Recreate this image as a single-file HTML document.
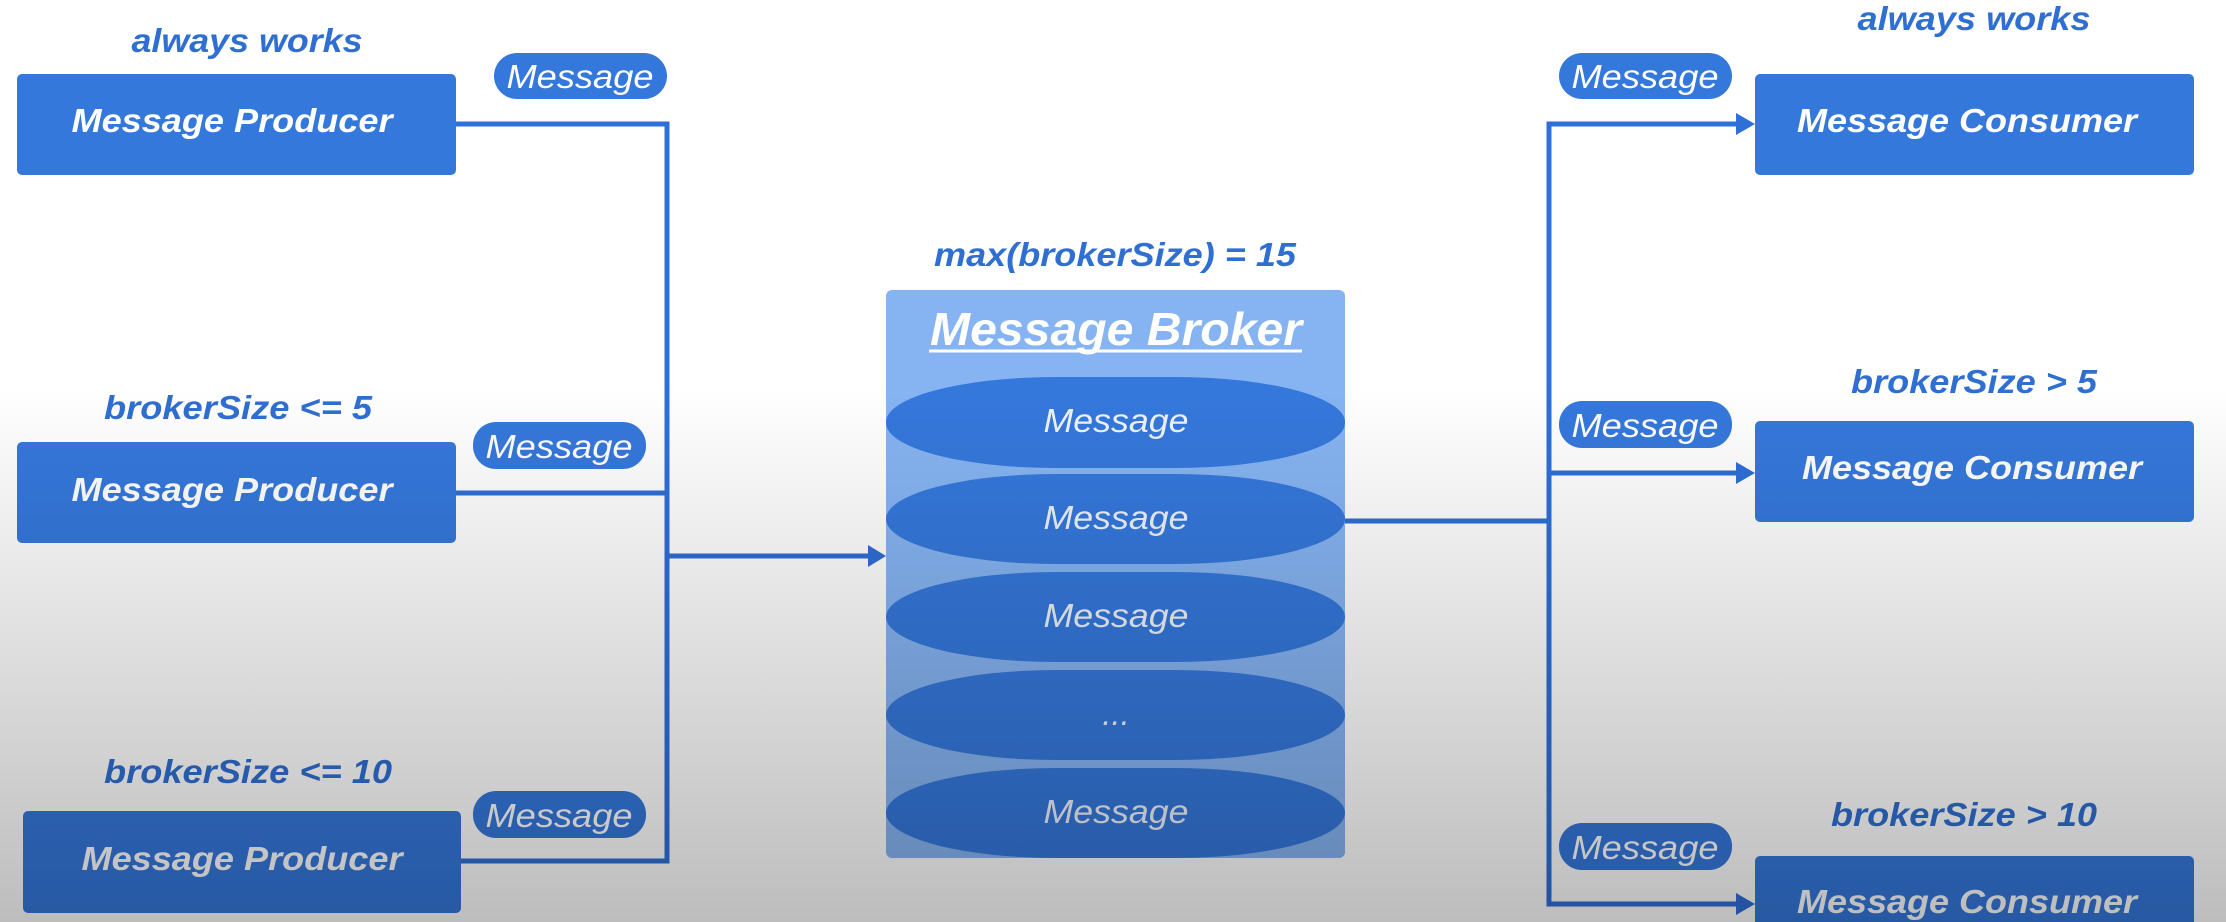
<!DOCTYPE html>
<html><head><meta charset="utf-8"><style>
html,body{margin:0;padding:0;width:2226px;height:922px;overflow:hidden;background:#fff}
svg{display:block}
text{font-family:"Liberation Sans",Arial,sans-serif;font-style:italic}
.lbl{fill:#2f6fd2;font-weight:bold;font-size:33px}
.bx{fill:#fff;font-weight:bold;font-size:33px}
.pl{fill:#fff;font-size:33px}
.em{fill:#eef3fb;font-size:33px}
</style></head><body>
<svg width="2226" height="922" viewBox="0 0 2226 922" xmlns="http://www.w3.org/2000/svg">
<defs>
<linearGradient id="shade" x1="0" y1="0" x2="0" y2="1">
<stop offset="0" stop-color="#000" stop-opacity="0"/>
<stop offset="0.42" stop-color="#000" stop-opacity="0"/>
<stop offset="1" stop-color="#000" stop-opacity="0.26"/>
</linearGradient>
</defs>
<rect width="2226" height="922" fill="#fff"/>
<g stroke="#2f6fd8" stroke-width="5" fill="none">
<polyline points="456,124 667,124 667,861 461,861"/>
<line x1="456" y1="493" x2="667" y2="493"/>
<line x1="667" y1="556" x2="872" y2="556"/>
<polyline points="1344,521 1549,521"/>
<polyline points="1742,124 1549,124 1549,904 1742,904"/>
<line x1="1549" y1="473" x2="1742" y2="473"/>
</g>
<g fill="#2f6fd8">
<path d="M868,545 L886,556 L868,567 z"/>
<path d="M1736,113 L1755,124 L1736,135 z"/>
<path d="M1736,462 L1755,473 L1736,484 z"/>
<path d="M1736,893 L1755,904 L1736,915 z"/>
</g>
<g fill="#3578dc">
<rect x="17" y="74" width="439" height="101" rx="5"/>
<rect x="17" y="442" width="439" height="101" rx="5"/>
<rect x="23" y="811" width="438" height="102" rx="5"/>
<rect x="1755" y="74" width="439" height="101" rx="5"/>
<rect x="1755" y="421" width="439" height="101" rx="5"/>
<rect x="1755" y="856" width="439" height="100" rx="5"/>
<rect x="494" y="53" width="173" height="46" rx="23"/>
<rect x="473" y="422" width="173" height="47" rx="23"/>
<rect x="473" y="791" width="173" height="47" rx="23"/>
<rect x="1559" y="53" width="173" height="46" rx="23"/>
<rect x="1559" y="401" width="173" height="47" rx="23"/>
<rect x="1559" y="823" width="173" height="47" rx="23"/>
</g>
<rect x="886" y="290" width="459" height="568" rx="6" fill="#86b4f2"/>
<g fill="#3578dc">
<rect x="886" y="377" width="459" height="91" rx="170" ry="45"/>
<rect x="886" y="474" width="459" height="90" rx="170" ry="45"/>
<rect x="886" y="572" width="459" height="90" rx="170" ry="45"/>
<rect x="886" y="670" width="459" height="90" rx="170" ry="45"/>
<rect x="886" y="768" width="459" height="90" rx="170" ry="45"/>
</g>
<g text-anchor="middle">
<text class="lbl" x="247" y="52" textLength="231" lengthAdjust="spacingAndGlyphs">always works</text>
<text class="lbl" x="238" y="419" textLength="268" lengthAdjust="spacingAndGlyphs">brokerSize &lt;= 5</text>
<text class="lbl" x="248" y="783" textLength="288" lengthAdjust="spacingAndGlyphs">brokerSize &lt;= 10</text>
<text class="lbl" x="1115" y="266" textLength="362" lengthAdjust="spacingAndGlyphs">max(brokerSize) = 15</text>
<text class="lbl" x="1974" y="30" textLength="233" lengthAdjust="spacingAndGlyphs">always works</text>
<text class="lbl" x="1974" y="393" textLength="246" lengthAdjust="spacingAndGlyphs">brokerSize &gt; 5</text>
<text class="lbl" x="1964" y="826" textLength="266" lengthAdjust="spacingAndGlyphs">brokerSize &gt; 10</text>
<text class="bx" x="232" y="132" textLength="321" lengthAdjust="spacingAndGlyphs">Message Producer</text>
<text class="bx" x="232" y="501" textLength="321" lengthAdjust="spacingAndGlyphs">Message Producer</text>
<text class="bx" x="242" y="870" textLength="321" lengthAdjust="spacingAndGlyphs">Message Producer</text>
<text class="bx" x="1967" y="132" textLength="340" lengthAdjust="spacingAndGlyphs">Message Consumer</text>
<text class="bx" x="1972" y="479" textLength="340" lengthAdjust="spacingAndGlyphs">Message Consumer</text>
<text class="bx" x="1967" y="913" textLength="340" lengthAdjust="spacingAndGlyphs">Message Consumer</text>
<text class="pl" x="580" y="88" textLength="147" lengthAdjust="spacingAndGlyphs">Message</text>
<text class="pl" x="559" y="458" textLength="147" lengthAdjust="spacingAndGlyphs">Message</text>
<text class="pl" x="559" y="827" textLength="147" lengthAdjust="spacingAndGlyphs">Message</text>
<text class="pl" x="1645" y="88" textLength="147" lengthAdjust="spacingAndGlyphs">Message</text>
<text class="pl" x="1645" y="437" textLength="147" lengthAdjust="spacingAndGlyphs">Message</text>
<text class="pl" x="1645" y="859" textLength="147" lengthAdjust="spacingAndGlyphs">Message</text>
<text x="1116" y="345" fill="#fff" font-weight="bold" font-size="46" textLength="372" lengthAdjust="spacingAndGlyphs">Message Broker</text>
<text class="em" x="1116" y="432" textLength="145" lengthAdjust="spacingAndGlyphs">Message</text>
<text class="em" x="1116" y="529" textLength="145" lengthAdjust="spacingAndGlyphs">Message</text>
<text class="em" x="1116" y="627" textLength="145" lengthAdjust="spacingAndGlyphs">Message</text>
<text class="em" x="1116" y="725">...</text>
<text class="em" x="1116" y="823" textLength="145" lengthAdjust="spacingAndGlyphs">Message</text>
</g>
<line x1="929" y1="351" x2="1302" y2="351" stroke="#fff" stroke-width="3"/>
<rect width="2226" height="922" fill="url(#shade)"/>
</svg>
</body></html>
